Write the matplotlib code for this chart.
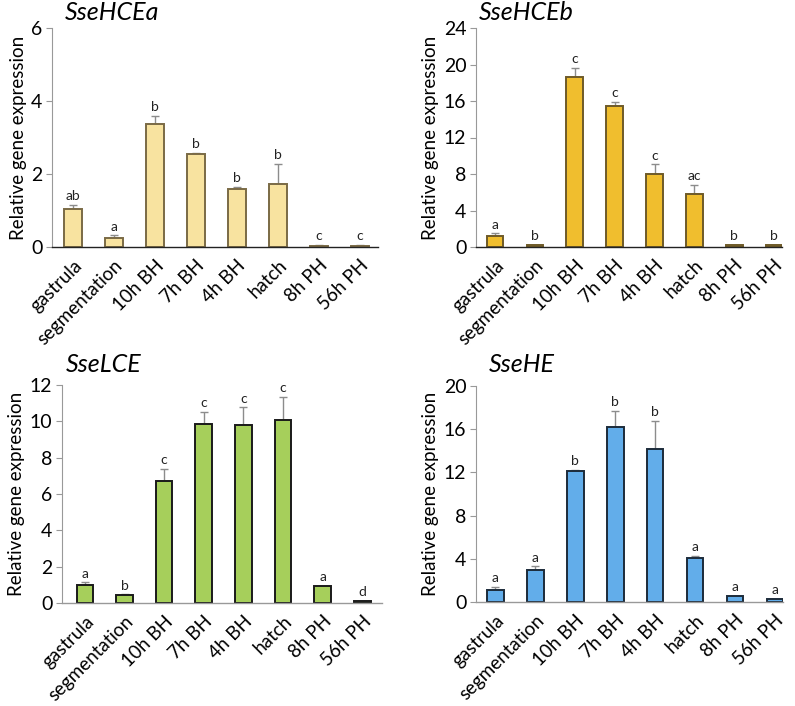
import numpy as np
import matplotlib
matplotlib.use('Agg')
import matplotlib.pyplot as plt

plt.rcParams['font.family'] = ['Lato', 'DejaVu Sans']

stages = ['gastrula', 'segmentation', '10h BH', '7h BH', '4h BH', 'hatch', '8h PH', '56h PH']

hcea_vals = [1.03, 0.25, 3.37, 2.55, 1.59, 1.73, 0.04, 0.04]
hcea_err = [0.13, 0.07, 0.23, 0.03, 0.05, 0.54, 0.01, 0.01]
hcea_sig = ['ab', 'a', 'b', 'b', 'b', 'b', 'c', 'c']

hceb_vals = [1.24, 0.2, 18.6, 15.5, 8.0, 5.8, 0.2, 0.2]
hceb_err = [0.26, 0.02, 1.0, 0.4, 1.06, 1.0, 0.02, 0.02]
hceb_sig = ['a', 'b', 'c', 'c', 'c', 'ac', 'b', 'b']

lce_vals = [1.0, 0.46, 6.71, 9.88, 9.79, 10.06, 0.91, 0.1]
lce_err = [0.13, 0.02, 0.67, 0.62, 0.98, 1.27, 0.03, 0.02]
lce_sig = ['a', 'b', 'c', 'c', 'c', 'c', 'a', 'd']

he_vals = [1.1, 3.0, 12.1, 16.2, 14.2, 4.07, 0.55, 0.25]
he_err = [0.28, 0.3, 0.15, 1.5, 2.6, 0.23, 0.05, 0.04]
he_sig = ['a', 'a', 'b', 'b', 'b', 'a', 'a', 'a']

W, H = 795, 706
fig = plt.figure(figsize=(W / 100, H / 100), dpi=100)


def px_axes(left, right, top, bottom):
    return fig.add_axes([left / W, 1 - bottom / H, (right - left) / W, (bottom - top) / H])


panels = [
    # title, vals, err, sig, face, edge, ymax, ystep, box(px), xlim, title pos, bottom spine
    ('SseHCEa', hcea_vals, hcea_err, hcea_sig, '#F8E3A0', '#7A6A45', 6, 2,
     (52, 378, 28, 247), (-0.51, 7.44), (65, 13), '#222222'),
    ('SseHCEb', hceb_vals, hceb_err, hceb_sig, '#F0BE2E', '#6E5A28', 24, 4,
     (476, 782, 28, 247), (-0.48, 7.2), (479, 13), '#222222'),
    ('SseLCE', lce_vals, lce_err, lce_sig, '#A6CF5B', '#1A1A1A', 12, 2,
     (62, 382, 385, 603), (-0.58, 7.5), (66, 364), '#999999'),
    ('SseHE', he_vals, he_err, he_sig, '#62ADEA', '#1C2B3A', 20, 4,
     (476, 783, 386, 602), (-0.48, 7.2), (489, 364), '#999999'),
]

for title, vals, err, sig, face, edge, ymax, ystep, box, xl, tpos, bcol in panels:
    ax = px_axes(*box)
    x = np.arange(len(stages))
    ax.bar(x, vals, width=0.42, color=face, edgecolor=edge, linewidth=1.4, zorder=2)
    ax.errorbar(x, vals, yerr=[np.zeros(len(vals)), err], fmt='none',
                ecolor='#8C8C8C', elinewidth=1.0, capsize=3, capthick=1.0, zorder=1)
    for xi, v, e, s in zip(x, vals, err, sig):
        ax.annotate(s, (xi, v + e), xytext=(0, 2), textcoords='offset points',
                    ha='center', va='bottom', fontsize=10, color='#222222')
    ax.set_ylim(0, ymax)
    ax.set_xlim(*xl)
    ax.set_yticks(np.arange(0, ymax + 0.1, ystep))
    ax.set_xticks(x)
    ax.set_xticklabels(stages, rotation=45, ha='right', rotation_mode='anchor', fontsize=13.5)
    ax.tick_params(axis='x', length=0, pad=7)
    ax.tick_params(axis='y', length=4, color='#999999', labelsize=14, pad=3)
    for side in ['top', 'right']:
        ax.spines[side].set_visible(False)
    ax.spines['left'].set_color('#999999')
    ax.spines['bottom'].set_color(bcol)
    ax.spines['bottom'].set_linewidth(1.0)
    ax.set_ylabel('Relative gene expression', fontsize=13.5, labelpad=3)
    fig.text(tpos[0] / W, 1 - tpos[1] / H, title, fontsize=18, style='italic',
             ha='left', va='center')

plt.savefig('out.png', dpi=100)
